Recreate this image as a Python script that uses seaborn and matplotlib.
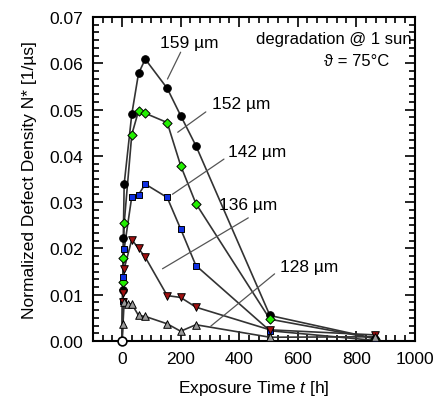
import numpy as np
import pandas as pd
import matplotlib
matplotlib.use("Agg")
import matplotlib.pyplot as plt
import seaborn as sns
from matplotlib.ticker import MultipleLocator, AutoMinorLocator

# wafer thickness series
thickness = ["159 µm", "152 µm", "142 µm", "136 µm", "128 µm"]

t_159 = [0, 2, 4, 7, 33, 56, 79, 154, 200, 252, 505, 865]
n_159 = [0, 0.0111, 0.0222, 0.0339, 0.0490, 0.0578, 0.0609, 0.0546, 0.0487, 0.0422, 0.0055, 0.0005]

t_152 = [0, 2, 4, 7, 33, 56, 79, 154, 200, 252, 505, 865]
n_152 = [0, 0.0127, 0.0179, 0.0254, 0.0446, 0.0497, 0.0492, 0.0472, 0.0379, 0.0297, 0.0047, 0.0005]

t_142 = [0, 2, 4, 7, 33, 56, 79, 154, 200, 252, 505, 865]
n_142 = [0, 0.0087, 0.0138, 0.0199, 0.0312, 0.0316, 0.0339, 0.0310, 0.0242, 0.0163, 0.0022, 0.0001]

t_136 = [0, 2, 4, 7, 33, 56, 79, 154, 200, 252, 505, 865]
n_136 = [0, 0.0085, 0.0104, 0.0156, 0.0219, 0.0200, 0.0181, 0.0098, 0.0094, 0.0073, 0.0024, 0.0013]

t_128 = [0, 3, 7, 20, 33, 56, 79, 154, 200, 252, 505, 865]
n_128 = [0, 0.0037, 0.0085, 0.0080, 0.0080, 0.0055, 0.0053, 0.0037, 0.0021, 0.0035, 0.0008, 0.0009]

colors = ["#000000", "#22ee00", "#1030e0", "#a01010", "#9a9a9a"]
markers = ["o", "D", "s", "v", "^"]
sizes = [30, 22, 24, 30, 30]

# label text position and leader line (start -> end) in data coords
label_pos = [(231, 0.0646), (407, 0.0514), (462, 0.0410), (431, 0.0294), (638, 0.0160)]
leader = [((200, 0.0624), (155, 0.0566)),
          ((286, 0.0495), (190, 0.0451)),
          ((348, 0.0393), (172, 0.0317)),
          ((431, 0.0266), (138, 0.0156)),
          ((521, 0.0145), (303, 0.0032))]

series = [(t_159, n_159), (t_152, n_152), (t_142, n_142), (t_136, n_136), (t_128, n_128)]
frames = []
for name, (t, n) in zip(thickness, series):
    frames.append(pd.DataFrame({"t": t, "N": n, "sample": name}))
df = pd.concat(frames, ignore_index=True)

sns.set_style("ticks")
plt.rcParams["font.family"] = ["Liberation Sans", "DejaVu Sans"]
plt.rcParams["mathtext.fontset"] = "custom"
plt.rcParams["mathtext.it"] = "Liberation Sans:italic"
for key in ["text.color", "axes.labelcolor", "xtick.color", "ytick.color", "axes.edgecolor"]:
    plt.rcParams[key] = "black"

fig = plt.figure(figsize=(4.38, 4.10), dpi=100)
ax = fig.add_axes([0.212, 0.166, 0.735, 0.79])

sns.lineplot(data=df, x="t", y="N", hue="sample", palette=["#333333"] * 5,
             estimator=None, sort=True, linewidth=1.2, legend=False, ax=ax)

for i, name in enumerate(thickness):
    sub = df[(df["sample"] == name) & (df["t"] > 0)]
    sns.scatterplot(data=sub, x="t", y="N", color=colors[i], marker=markers[i],
                    s=sizes[i], edgecolor="black", linewidth=0.7, legend=False,
                    ax=ax, zorder=3 + i)

# common starting point at t = 0
origin = df[df["t"] == 0].iloc[:1]
sns.scatterplot(data=origin, x="t", y="N", marker="o", s=40, color="white",
                edgecolor="black", linewidth=1.2, legend=False, ax=ax,
                zorder=10, clip_on=False)

for i, name in enumerate(thickness):
    ax.text(label_pos[i][0], label_pos[i][1], name, fontsize=12.5,
            ha="center", va="center")
    (x0, y0), (x1, y1) = leader[i]
    ax.plot([x0, x1], [y0, y1], color="#555555", linewidth=0.9)

ax.text(0.99, 0.935, "degradation @ 1 sun", transform=ax.transAxes,
        fontsize=12, ha="right", va="center")
ax.text(0.92, 0.865, "ϑ = 75°C", transform=ax.transAxes,
        fontsize=12, ha="right", va="center")

ax.set_xlim(-100, 1000)
ax.set_ylim(0, 0.07)
ax.xaxis.set_major_locator(MultipleLocator(200))
ax.yaxis.set_major_locator(MultipleLocator(0.01))
ax.xaxis.set_minor_locator(AutoMinorLocator(6))
ax.yaxis.set_minor_locator(AutoMinorLocator(6))
ax.yaxis.set_major_formatter(matplotlib.ticker.FormatStrFormatter("%.2f"))
ax.tick_params(which="both", direction="in", top=True, right=True,
               labelsize=12.5, width=1.2, pad=7)
ax.tick_params(which="major", length=7)
ax.tick_params(which="minor", length=4)
for sp in ax.spines.values():
    sp.set_linewidth(1.5)

ax.set_xlabel("Exposure Time $\\mathit{t}$ [h]", fontsize=12.5, labelpad=9)
ax.set_ylabel("Normalized Defect Density N* [1/µs]", fontsize=12.5, labelpad=9)

fig.savefig("out.png", dpi=100)
